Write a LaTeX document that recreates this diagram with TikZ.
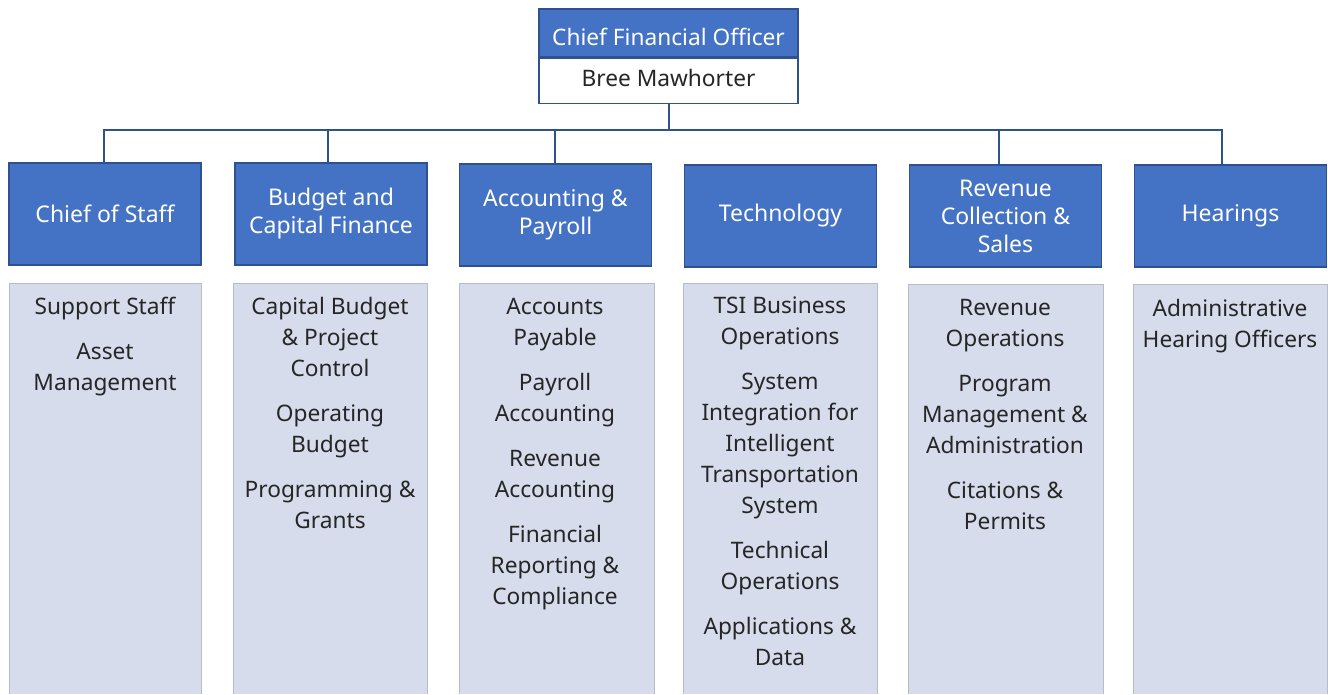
\documentclass[tikz,border=0pt]{standalone}
\usepackage{fontspec}
\setmainfont{Noto Sans}
\definecolor{hdr}{HTML}{4472C4}
\definecolor{hdrline}{HTML}{2F528F}
\definecolor{lst}{HTML}{D6DCEC}
\definecolor{lstline}{HTML}{B8BCC6}
\definecolor{txt}{HTML}{262626}
\begin{document}
\begin{tikzpicture}[x=1pt,y=-1pt,
  dept/.style={draw=hdrline, line width=1.2pt, fill=hdr, text=white, minimum width=192pt, minimum height=102pt, align=center, inner sep=0pt, font=\fontsize{23}{28}\selectfont},
  lsttext/.style={anchor=north, align=center, text=txt, inner sep=0pt, font=\fontsize{22.7}{31}\selectfont},
  toptext/.style={inner sep=0pt, font=\fontsize{22.7}{28}\selectfont},
  conn/.style={draw=hdrline, line width=2pt, line join=miter}]
\useasboundingbox (0,0) rectangle (1328,694);
% CFO
\node[draw=hdrline, line width=1.2pt, fill=hdr, minimum width=259pt, minimum height=48pt, inner sep=0pt] (cfo) at (668.5,33) {};
\node[draw=hdrline, line width=1.2pt, fill=white, minimum width=259pt, minimum height=45pt, inner sep=0pt, anchor=north] (cfoname) at (cfo.south) {};
\node[toptext, text=white] (cfot) at (668.5,37) {Chief Financial Officer};
\node[toptext, text=txt] (cfon) at (668.5,77.5) {Bree Mawhorter};
% list boxes
\fill[lst] (9,283) rectangle (201,694);
\draw[lstline, line width=1pt] (9,694) -- (9,283) -- (201,283) -- (201,694);
\fill[lst] (233,283) rectangle (427,694);
\draw[lstline, line width=1pt] (233,694) -- (233,283) -- (427,283) -- (427,694);
\fill[lst] (459,283) rectangle (654,694);
\draw[lstline, line width=1pt] (459,694) -- (459,283) -- (654,283) -- (654,694);
\fill[lst] (683,283) rectangle (877,694);
\draw[lstline, line width=1pt] (683,694) -- (683,283) -- (877,283) -- (877,694);
\fill[lst] (908,284) rectangle (1103,694);
\draw[lstline, line width=1pt] (908,694) -- (908,284) -- (1103,284) -- (1103,694);
\fill[lst] (1133,284) rectangle (1327,694);
\draw[lstline, line width=1pt] (1133,694) -- (1133,284) -- (1327,284) -- (1327,694);
% departments
\node[dept] (d1) at (105,214) {Chief of Staff};
\node[dept] (d2) at (331,214) {Budget and\\Capital Finance};
\node[dept] (d3) at (555.5,215) {Accounting \&\\Payroll};
\node[dept] (d4) at (780.5,216) {Technology};
\node[dept] (d5) at (1005.5,216) {Revenue\\Collection \&\\Sales};
\node[dept] (d6) at (1230.5,216) {Hearings};
% connectors
\coordinate (bus) at (668.5,130);
\draw[conn] (cfoname.south) -- (bus);
\draw[conn] ([xshift=-1pt]d1.north) |- (bus);
\draw[conn] ([xshift=-3pt]d2.north) |- (bus);
\draw[conn] ([xshift=-0.5pt]d3.north) |- (bus);
\draw[conn] ([xshift=-6.5pt]d5.north) |- (bus);
\draw[conn] ([xshift=-8.5pt]d6.north) |- (bus);
% list texts
\node[lsttext] (l1) at (105,297) {Support Staff\\[14pt]Asset\\Management};
\node[lsttext] (l2) at (330,297) {Capital Budget\\\& Project\\Control\\[14pt]Operating\\Budget\\[14pt]Programming \&\\Grants};
\node[lsttext] (l3) at (555,298) {Accounts\\Payable\\[14pt]Payroll\\Accounting\\[14pt]Revenue\\Accounting\\[14pt]Financial\\Reporting \&\\Compliance};
\node[lsttext] (l4) at (780,297) {TSI Business\\Operations\\[14pt]System\\Integration for\\Intelligent\\Transportation\\System\\[14pt]Technical\\Operations\\[14pt]Applications \&\\Data};
\node[lsttext] (l5) at (1005,299) {Revenue\\Operations\\[14pt]Program\\Management \&\\Administration\\[14pt]Citations \&\\Permits};
\node[lsttext] (l6) at (1230,299) {Administrative\\Hearing Officers};
\end{tikzpicture}
\end{document}
